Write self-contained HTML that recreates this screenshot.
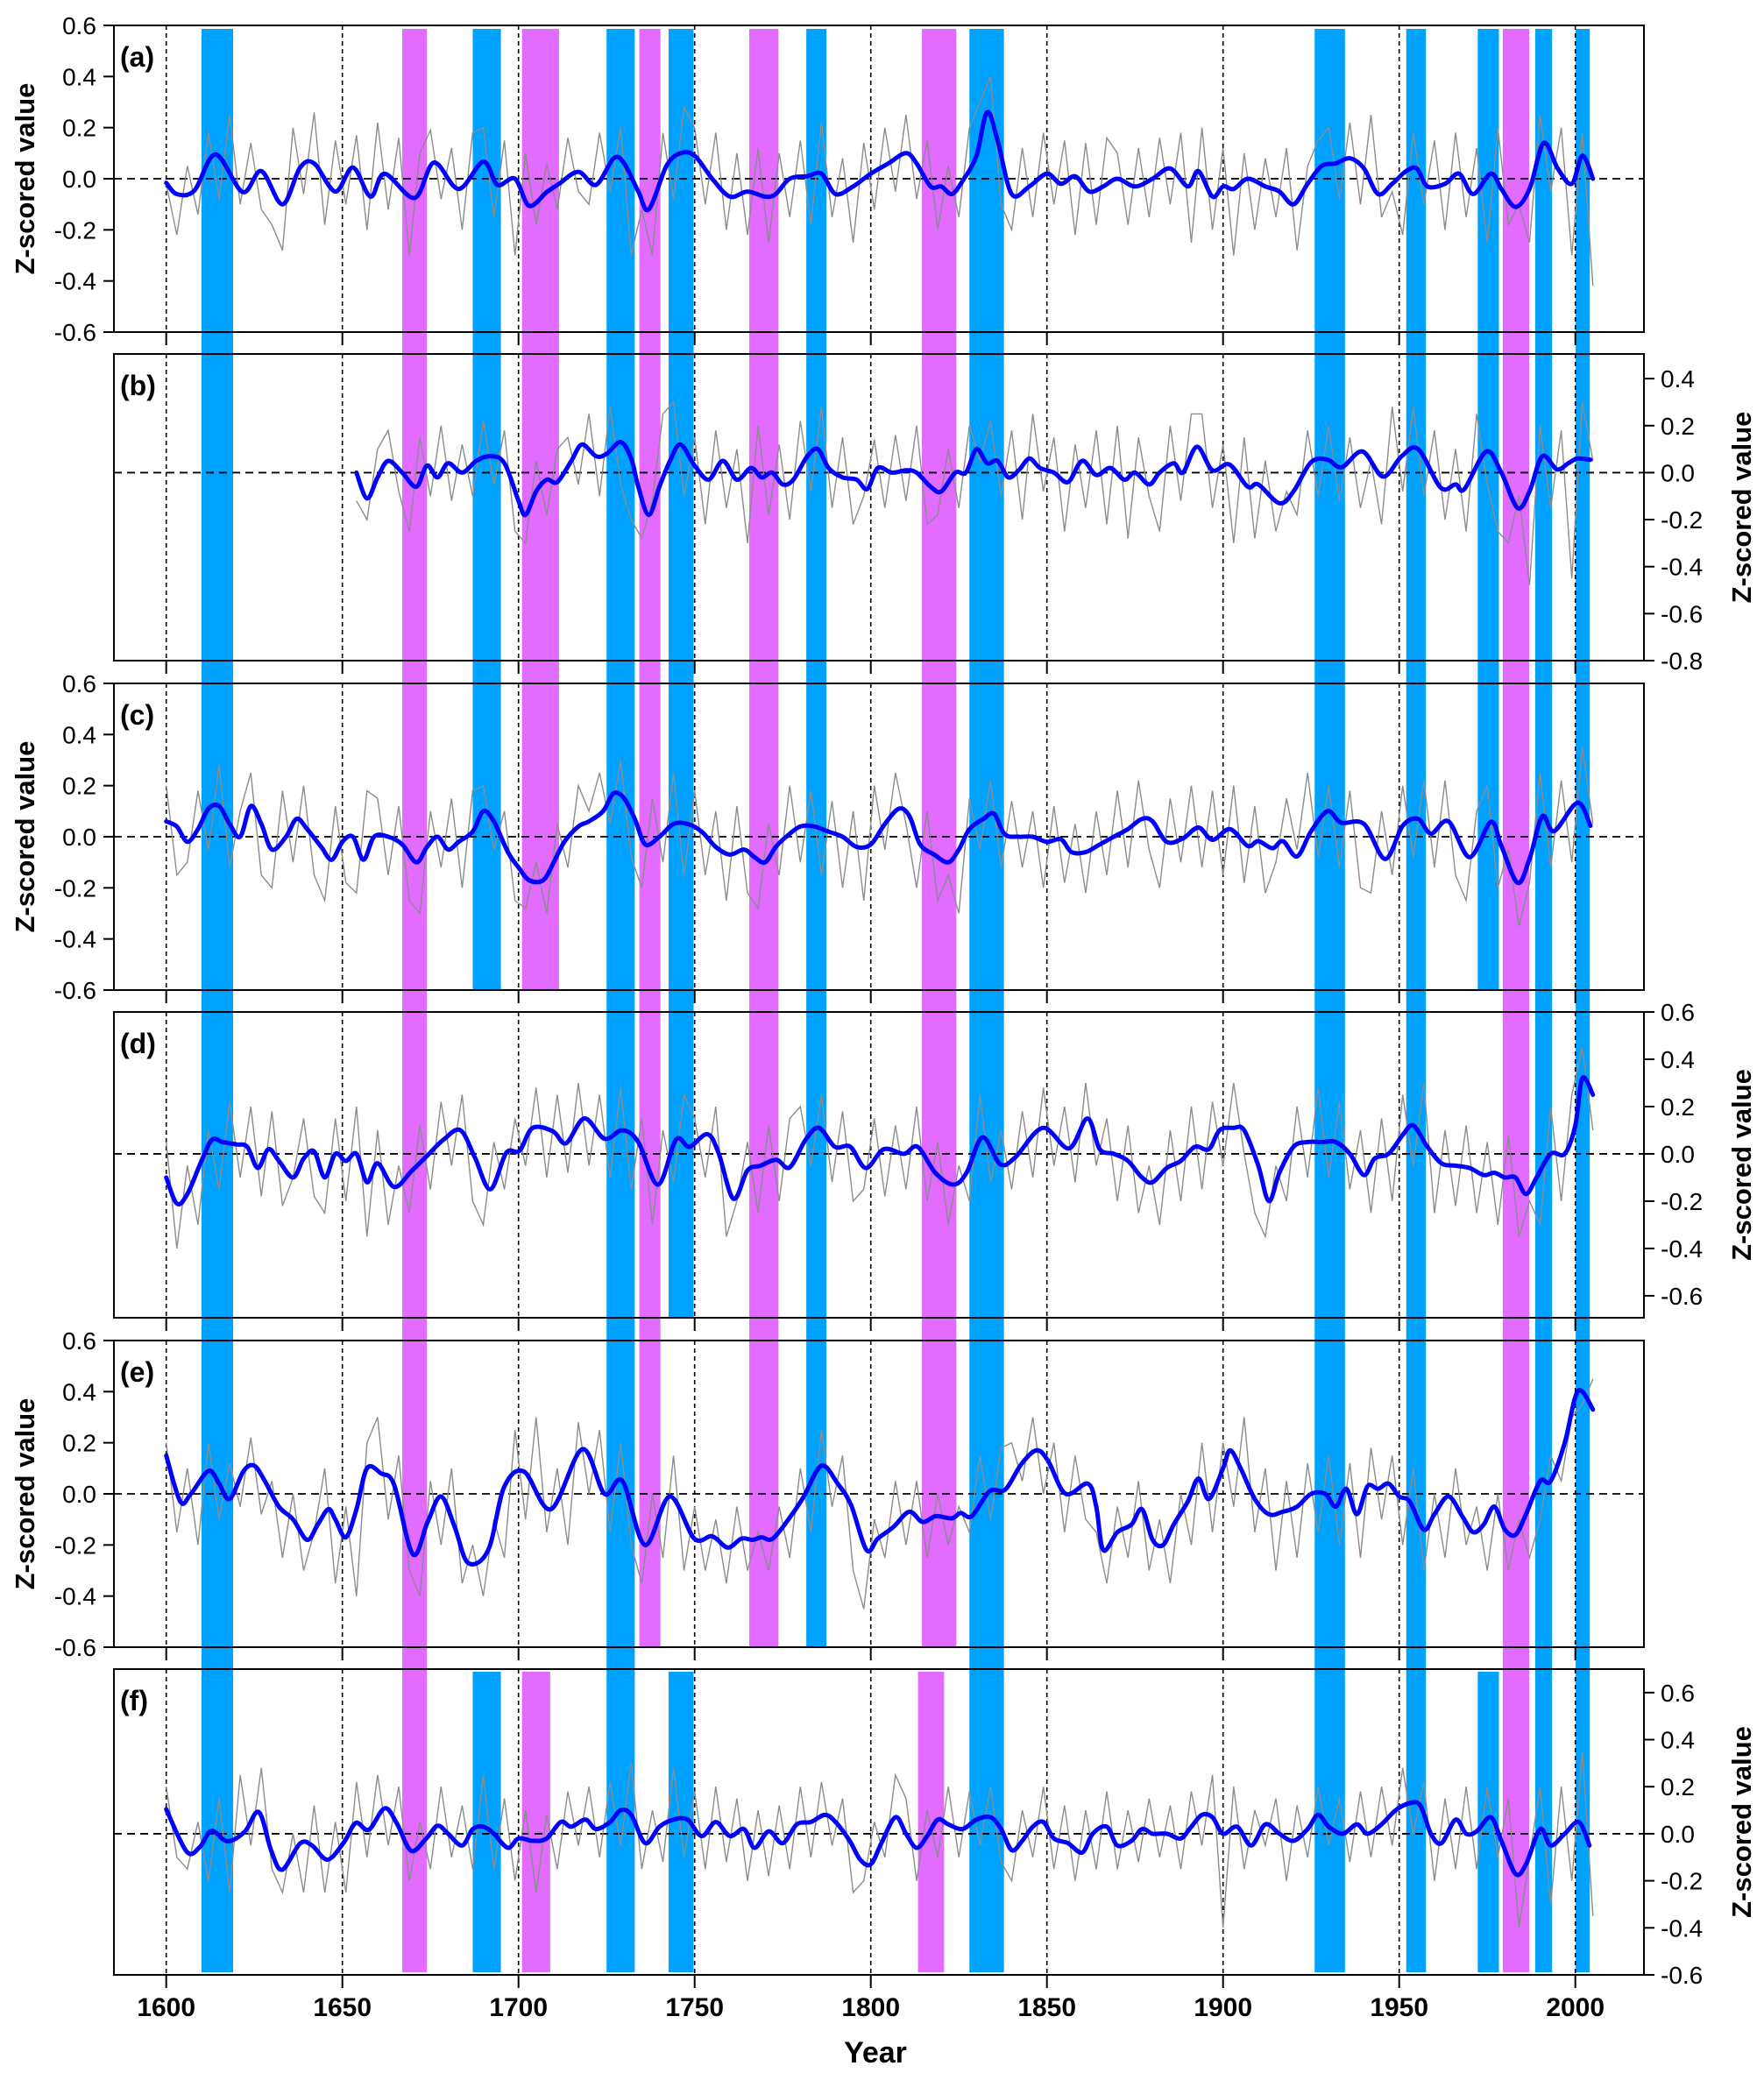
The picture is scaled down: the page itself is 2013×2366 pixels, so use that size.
<!DOCTYPE html>
<html><head><meta charset="utf-8"><title>Z-scored series</title>
<style>html,body{margin:0;padding:0;background:#fff}svg{display:block}text{font-family:"Liberation Sans",Arial,sans-serif}</style>
</head><body>
<svg id="chart" width="2013" height="2366" viewBox="0 0 2013 2366" xmlns="http://www.w3.org/2000/svg">
<g id="bands"></g>
<g id="panels"></g>
<text x="999" y="2354" text-anchor="middle" font-size="34" font-weight="bold">Year</text>
</svg>
<script>
// ---------- data ----------
const panelLabels = ["(a)","(b)","(c)","(d)","(e)","(f)"];
const yearTicks = [1600,1650,1700,1750,1800,1850,1900,1950,2000];
const ticksAC = [0.6,0.4,0.2,0.0,-0.2,-0.4,-0.6];
const ticksB = [0.4,0.2,0.0,-0.2,-0.4,-0.6,-0.8];
const ticksD = [0.6,0.4,0.2,0.0,-0.2,-0.4,-0.6];
const ticksF = [0.6,0.4,0.2,0.0,-0.2,-0.4,-0.6];

const bandStart = [1610,1667,1687,1687,1701,1701,1725,1734.3,1742.6,1742.6,1765.5,1781.7,1814.5,1813.4,1828,1926,1952,1972.3,1972.3,1979.4,1988.6,2000.1];
const bandEnd   = [1619,1674,1695,1695,1711.5,1709,1733,1740.3,1749.7,1749.7,1773.8,1787.4,1824.3,1820.8,1837.8,1934.6,1957.6,1978.3,1978.3,1986.9,1993.4,2004.1];
const bandType  = ["b","m","b","b","m","m","b","m","b","b","m","b","m","m","b","b","b","b","b","m","b","b"];
const bandFrom  = [0,0,0,5,0,5,0,0,0,5,0,0,0,5,0,0,0,0,5,0,0,0];
const bandTo    = [5,5,2,5,2,5,5,4,3,5,4,4,4,5,5,5,5,2,5,5,5,5];

// gray annual series sampled every 3 years (hundredths)
const grayA = [-2,-22,5,-14,18,-8,25,-10,14,-12,-18,-28,20,-6,26,-18,15,-10,17,-20,22,-12,16,-30,10,19,-8,12,-20,18,20,-15,15,-30,10,-18,6,-12,16,-5,-10,18,-5,20,-30,-12,-30,18,-8,28,20,-10,18,-20,10,-22,12,-25,10,-15,15,-18,22,-15,8,-25,14,-12,20,-5,25,-8,15,-20,5,-15,20,30,40,-10,-20,12,-15,18,-10,15,-22,14,-18,16,10,-18,12,-15,16,-10,18,-25,20,-20,12,-30,10,-20,8,-15,12,-28,5,15,20,-8,22,-10,25,-15,-5,-22,18,-10,15,-20,18,-15,12,-25,20,-18,-10,-25,25,-5,20,-30,18,-42];
const grayB = [-12,-20,10,18,-8,-25,15,-10,20,-12,12,-10,22,-5,18,-25,-30,5,-18,10,15,-5,25,-10,28,-5,-20,-28,-12,25,30,-10,15,-22,18,-15,10,-30,20,-18,12,-20,22,-8,28,-15,15,-22,-10,14,-15,16,-12,20,-22,-18,10,-15,20,5,22,-10,18,-20,25,-8,15,-25,12,-15,18,-22,20,-28,15,-10,-25,20,-12,25,25,-15,12,-30,15,-28,5,-25,-8,-18,18,-10,20,-12,15,-15,5,-22,28,-8,28,-10,18,-20,10,-25,25,-5,-25,-30,-10,-48,20,-15,18,-45,30,5];
const grayC = [20,-15,-10,18,-5,28,-12,10,25,-15,-20,18,-10,20,-15,-25,12,-18,-22,18,15,-15,12,-25,-30,10,-12,15,-20,18,20,-5,10,-25,-28,-10,-30,5,-12,20,10,25,5,30,-8,-20,15,-10,25,-15,18,-15,10,-25,12,-22,-28,5,-15,20,-10,18,-15,14,-20,10,-25,20,-5,25,5,-20,10,-25,-15,-30,15,-5,22,-12,14,-12,10,-20,12,-18,5,-22,10,-15,18,-12,22,-5,-20,15,-10,20,-12,18,-15,20,-18,12,-22,-10,15,-5,25,-8,20,-12,18,-20,-22,10,-15,20,-8,22,-12,22,-15,-25,10,20,-20,-5,-35,-18,25,-12,22,-10,35,5];
const grayD = [5,-40,-5,-30,10,-15,22,-10,20,-18,18,-22,-10,15,-18,-25,15,-20,20,-35,10,-30,-5,-25,12,-15,22,-5,25,-20,-30,5,-15,15,-5,28,-10,25,-8,30,-5,25,-10,28,-15,15,-30,10,-12,25,15,-10,20,-35,-20,5,-25,12,-20,15,20,-5,25,-12,18,-20,-15,15,-18,12,-15,20,-20,5,-30,-5,-20,25,-12,10,-15,18,-10,28,-5,20,-12,30,-5,15,-20,12,-25,-5,-30,10,-20,20,-15,22,-5,30,0,-25,-35,-5,-20,20,-10,28,-10,22,-15,10,-25,15,-20,25,-5,30,-25,10,-22,12,-25,5,-30,8,-35,-20,-30,20,-20,25,45,10];
const grayE = [20,-15,10,-20,20,-10,12,-5,22,-8,5,-25,0,-30,-15,10,-35,-5,-40,20,30,-10,15,-30,-40,5,-20,10,-35,-20,-40,-10,-25,25,-10,30,-15,10,-20,28,0,25,-15,20,-20,-35,0,-25,15,-30,-5,-30,-10,-35,-5,-30,-15,-30,-5,-25,10,-15,25,-5,15,-30,-45,-10,-25,5,-20,5,-25,0,-20,-5,-15,15,-10,18,20,5,30,0,20,-15,15,-10,-15,-35,-5,-25,5,-30,-10,-35,0,-20,20,-15,20,-5,30,-15,10,-30,5,-25,12,-15,15,-20,12,-25,18,-10,15,-20,10,-30,0,-25,10,-20,-5,-30,0,-30,-10,-25,-10,15,5,30,35,45];
const grayF = [20,-10,-15,5,-20,15,-25,25,-5,28,-15,-25,0,-25,12,-25,5,-25,22,-10,25,-5,20,-20,5,-15,20,-10,12,-15,25,-15,15,-20,10,-25,8,-15,18,-5,20,-10,22,-5,30,-15,10,-12,28,-10,18,-15,20,-12,15,-20,10,-18,12,-15,20,-10,22,-5,15,-25,-20,5,-10,25,15,-20,10,-10,20,-10,18,-5,20,-12,-20,10,-10,20,-15,12,-20,10,-15,18,-15,10,-12,15,-10,12,-15,18,-5,25,-40,20,-15,10,-5,15,-20,12,-10,20,-5,15,-12,18,-10,20,-5,28,0,22,-20,15,-15,20,-15,20,-10,15,-40,-10,20,-30,20,-20,35,-35];
const grayStart = [1600,1654,1600,1600,1600,1600];

// smoothed (blue) series
const smYearsA = [1600,1603,1608,1614,1621.7,1627,1633,1638,1642,1648,1653,1658,1662,1670.5,1676,1683,1690,1694,1699,1703,1708,1711.5,1717,1722,1727,1730,1734,1737,1742,1746,1750,1755,1760,1765,1770,1773,1777,1782,1786,1790,1795,1800,1805,1810,1813,1817,1820,1823,1826,1830,1833,1836,1840,1845,1850,1854,1858,1862,1866,1870,1875,1880,1885,1890,1893,1897,1900,1903,1907,1912,1916,1920,1924,1928,1932,1936,1940,1944,1948,1952,1955,1958,1963,1967,1971,1976,1979,1983,1987,1991,1995,1999,2002,2005];
const smValsA = [-0.016,-0.06,-0.046,0.095,-0.052,0.03,-0.10,0.044,0.06,-0.05,0.044,-0.07,0.02,-0.075,0.063,-0.04,0.067,-0.024,0,-0.106,-0.052,-0.02,0.027,-0.024,0.08,0.06,-0.05,-0.12,0.05,0.10,0.09,0.0,-0.07,-0.05,-0.07,-0.06,0.0,0.01,0.02,-0.06,-0.03,0.02,0.06,0.10,0.06,-0.03,-0.03,-0.06,-0.01,0.09,0.26,0.15,-0.06,-0.03,0.02,-0.02,0.01,-0.05,-0.03,0.0,-0.03,0.0,0.04,-0.03,0.03,-0.07,-0.03,-0.04,0.0,-0.03,-0.05,-0.10,-0.02,0.05,0.06,0.08,0.04,-0.06,-0.02,0.03,0.04,-0.03,-0.02,0.02,-0.06,0.02,-0.04,-0.11,-0.04,0.14,0.04,-0.02,0.09,0.0];
const smYearsB = [1654,1657,1660,1663,1667,1671,1674,1677,1680,1684,1688,1692,1696,1700,1702,1705,1708,1711,1715,1718,1722,1725,1729,1732,1734,1737,1740,1743,1746,1750,1754,1758,1762,1766,1769,1772,1775,1778,1782,1785,1788,1792,1796,1799,1802,1806,1810,1813,1817,1820,1824,1827,1830,1833,1836,1839,1842,1845,1848,1852,1856,1860,1864,1868,1872,1875,1879,1882,1886,1888.6,1892.6,1897,1901.8,1907,1910,1916,1920,1925,1929.7,1933.7,1939.6,1945.4,1950.7,1955.4,1961.8,1966,1968.5,1974.7,1979,1983.6,1987,1990.6,1994.8,1998,2000.6,2004.3];
const smValsB = [0.0,-0.11,-0.02,0.05,0.0,-0.06,0.03,-0.02,0.04,0.0,0.05,0.07,0.04,-0.12,-0.18,-0.08,-0.03,-0.04,0.05,0.12,0.07,0.08,0.13,0.06,-0.06,-0.18,-0.06,0.05,0.12,0.03,-0.03,0.05,-0.03,0.02,-0.02,0.0,-0.05,-0.03,0.07,0.10,0.02,-0.02,-0.03,-0.07,0.02,0.0,0.01,0.0,-0.06,-0.08,0.0,0.0,0.10,0.04,0.05,-0.02,0.01,0.06,0.02,0.0,-0.04,0.05,-0.01,0.02,-0.03,0.0,-0.05,0.0,0.04,0.0,0.11,0.01,0.035,-0.06,-0.05,-0.13,-0.08,0.045,0.055,0.023,0.09,-0.017,0.07,0.10,-0.064,-0.05,-0.07,0.09,0.0,-0.15,-0.08,0.07,0.014,0.04,0.06,0.055];
const smYearsC = [1600,1603,1606,1609,1612,1615,1618,1621,1624,1627,1630,1634,1637,1640,1644,1647,1650,1653,1656,1659,1663,1667,1671,1674,1677,1680,1683,1687,1690,1693,1697,1700,1703,1707,1710,1713,1717,1720,1724,1727,1730,1733,1736,1740,1744,1748,1752,1756,1760,1764,1767,1770,1773,1776,1780,1784,1788,1792,1796,1800,1804,1808,1811,1814,1818,1822,1825,1828,1832,1835,1838,1842,1846,1850,1854,1857,1861,1865,1869,1873,1877,1880,1884,1888.6,1893,1897,1902,1907,1910,1914,1917,1921,1925,1929.7,1933.5,1940,1946,1951,1955.4,1959,1964,1970,1976,1979,1983.6,1987,1990.6,1994,2000.6,2004.3];
const smValsC = [0.06,0.04,-0.02,0.03,0.11,0.12,0.05,0.0,0.12,0.05,-0.05,0.0,0.07,0.03,-0.04,-0.09,-0.02,0.0,-0.09,0.0,0.0,-0.03,-0.10,-0.04,0.0,-0.05,-0.02,0.02,0.10,0.06,-0.06,-0.12,-0.17,-0.17,-0.10,-0.02,0.04,0.06,0.10,0.17,0.15,0.07,-0.03,0.0,0.05,0.05,0.02,-0.04,-0.07,-0.05,-0.08,-0.10,-0.04,0.0,0.04,0.04,0.02,0.0,-0.04,-0.03,0.05,0.11,0.08,-0.03,-0.07,-0.10,-0.05,0.03,0.07,0.09,0.01,0.0,0.0,-0.02,-0.01,-0.06,-0.06,-0.03,0.0,0.03,0.07,0.06,-0.02,-0.007,0.036,-0.012,0.03,-0.036,-0.017,-0.045,-0.017,-0.077,0.022,0.10,0.055,0.05,-0.087,0.043,0.07,0.012,0.06,-0.08,0.058,-0.036,-0.18,-0.087,0.08,0.022,0.133,0.043];
const smYearsD = [1600,1603,1606,1610,1613,1616,1620,1623,1626,1629,1632,1636,1639,1642,1645,1648,1651,1654,1657,1660,1664.7,1669.8,1674.2,1678.7,1683.5,1687.6,1692,1696.5,1700.3,1704,1709.8,1713.5,1718.7,1724.4,1729.5,1734,1739.6,1744.7,1748.5,1753.6,1756.8,1761,1765,1768.7,1773.2,1777,1781.5,1785.3,1789.8,1794.2,1798.6,1803.7,1809.4,1813.3,1818.3,1823.4,1827.2,1831.7,1836.7,1841,1848.8,1856.3,1861.5,1865,1869,1873,1877,1880,1884,1888,1892,1896,1899,1903,1906,1910,1913,1916,1920,1924,1928,1932,1936,1940,1943,1947,1951,1954,1958,1962,1966,1970,1974,1977,1980,1983,1986,1989,1993,1997,2000,2002,2005];
const smValsD = [-0.10,-0.21,-0.17,-0.03,0.06,0.05,0.04,0.03,-0.06,0.02,-0.03,-0.10,-0.02,0.01,-0.10,0.0,-0.03,0.0,-0.12,-0.04,-0.14,-0.07,-0.006,0.06,0.10,-0.015,-0.15,0.004,0.013,0.11,0.095,0.045,0.15,0.064,0.10,0.05,-0.13,0.06,0.03,0.083,0.004,-0.19,-0.07,-0.05,-0.025,-0.057,0.06,0.11,0.03,0.03,-0.06,0.02,0.0,0.03,-0.08,-0.13,-0.08,0.07,-0.043,-0.015,0.11,0.023,0.15,0.02,0.0,-0.03,-0.10,-0.12,-0.06,-0.03,0.03,0.02,0.10,0.11,0.10,-0.05,-0.20,-0.08,0.03,0.05,0.05,0.05,0.0,-0.09,-0.02,0.0,0.08,0.12,0.03,-0.04,-0.05,-0.06,-0.09,-0.08,-0.10,-0.10,-0.17,-0.10,0.0,0.0,0.12,0.32,0.25];
const smYearsE = [1600,1604,1607,1612,1615,1618,1622,1625,1628,1632,1636,1640,1643,1646,1648,1651,1654,1657,1661,1664.7,1670,1674.2,1678,1681.9,1685.7,1691.4,1695.9,1701.6,1709.2,1718.1,1724.4,1729.5,1735.9,1742.9,1749.9,1755,1759.4,1763.3,1766.4,1769,1772.2,1777.3,1781,1786,1790.6,1794.4,1798.8,1802,1806.4,1810.9,1814.7,1818.5,1823,1825.5,1828.7,1833.7,1838.2,1842.6,1847,1850.3,1855.3,1861.6,1864,1866,1870,1874,1877,1880,1883,1886,1890,1893,1896,1900,1902,1905,1909,1913,1917,1921,1925,1929,1932,1935,1938,1941,1944,1947,1950,1953,1957,1960,1964,1968,1971,1974,1977,1980,1983,1986,1990,1993,1997,2000,2002,2005];
const smValsE = [0.15,-0.03,0.0,0.09,0.04,-0.02,0.09,0.11,0.05,-0.05,-0.10,-0.18,-0.12,-0.06,-0.10,-0.17,-0.06,0.10,0.08,0.035,-0.236,-0.11,-0.01,-0.13,-0.27,-0.22,0.026,0.087,-0.06,0.175,0.0,0.05,-0.20,-0.01,-0.175,-0.166,-0.21,-0.175,-0.18,-0.17,-0.175,-0.087,-0.01,0.11,0.04,-0.044,-0.22,-0.175,-0.13,-0.07,-0.11,-0.087,-0.096,-0.075,-0.087,0.01,0.017,0.114,0.17,0.13,0.0,0.04,-0.05,-0.22,-0.15,-0.12,-0.06,-0.18,-0.20,-0.12,-0.03,0.06,-0.02,0.10,0.17,0.10,-0.02,-0.08,-0.07,-0.05,0.0,0.0,-0.05,0.02,-0.08,0.03,0.02,0.04,-0.01,-0.03,-0.14,-0.08,-0.01,-0.09,-0.15,-0.12,-0.05,-0.14,-0.16,-0.08,0.05,0.05,0.20,0.38,0.40,0.33];
const smYearsF = [1600,1605.8,1609.5,1612.8,1617.4,1622.3,1626.3,1629.8,1632.9,1638,1641.4,1645.8,1650.5,1653.8,1657.5,1662,1665.4,1669.5,1673.7,1677,1680,1684,1687,1690,1693,1697,1700,1704,1708,1712,1715,1719,1722,1726,1729,1732,1736,1740,1744,1748,1752,1756,1760,1764,1767,1771,1775,1779,1783,1787,1790,1794,1797,1800,1803,1807,1810,1813,1816,1819,1822,1826,1830,1834,1837,1840,1843,1846,1849,1852,1856,1860,1863,1867,1870,1874,1877,1880,1884,1888,1891,1894,1897,1900,1904,1908,1912,1916,1920,1924,1927,1930,1934,1938,1941,1945,1949,1953,1956,1959,1962,1966,1969,1972,1976,1979,1983,1986,1990,1993,1997,2001,2004];
const smValsF = [0.104,-0.076,-0.057,0.012,-0.032,0.009,0.092,-0.072,-0.153,-0.041,-0.05,-0.11,-0.035,0.046,0.017,0.108,0.046,-0.072,-0.022,0.034,0.0,-0.05,0.02,0.03,0.0,-0.06,-0.02,-0.03,-0.02,0.05,0.03,0.06,0.02,0.05,0.10,0.08,-0.04,0.03,0.06,0.06,-0.01,0.05,-0.01,0.02,-0.06,0.01,-0.04,0.04,0.05,0.08,0.05,-0.03,-0.11,-0.13,-0.04,0.07,0.0,-0.06,-0.01,0.06,0.04,0.02,0.06,0.07,0.02,-0.07,-0.03,0.03,0.05,-0.02,-0.04,-0.08,0.0,0.03,-0.05,-0.03,0.02,0.0,0.0,-0.02,0.03,0.08,0.07,0.0,0.03,-0.05,0.04,0.0,-0.03,0.02,0.08,0.03,0.0,0.04,0.0,0.04,0.10,0.13,0.12,0.0,-0.04,0.06,0.0,0.01,0.07,-0.03,-0.17,-0.13,0.02,-0.05,0.0,0.05,-0.05];

// ---------- layout ----------
const NS = "http://www.w3.org/2000/svg";
const X0 = 130, X1 = 1876;
const panelTop = [29,404,780,1155,1530,1905];
const panelBot = [379,754,1130,1504,1880,2254];
const vMax = [0.6,0.505,0.6,0.60,0.6,0.70];
const vMin = [-0.6,-0.80,-0.6,-0.693,-0.6,-0.6];
const rightSide = [false,true,false,true,false,true];
const tickSets = [ticksAC,ticksB,ticksAC,ticksD,ticksAC,ticksF];
const grays = [grayA,grayB,grayC,grayD,grayE,grayF];
const smY = [smYearsA,smYearsB,smYearsC,smYearsD,smYearsE,smYearsF];
const smV = [smValsA,smValsB,smValsC,smValsD,smValsE,smValsF];

function xs(yr){ return 189.7 + (yr-1600)*4.02; }
function ys(p,v){ return panelTop[p] + (vMax[p]-v)/(vMax[p]-vMin[p])*(panelBot[p]-panelTop[p]); }
function mk(tag, attrs, parent){ const e=document.createElementNS(NS,tag); for(const k in attrs) e.setAttribute(k,attrs[k]); parent.appendChild(e); return e; }

const bandsG = document.getElementById('bands');
for(let i=0;i<bandStart.length;i++){
  const top = bandFrom[i]===0 ? 33 : panelTop[bandFrom[i]]+3;
  const bot = bandTo[i]===5 ? 2251 : panelBot[bandTo[i]];
  const r = mk('rect',{x:xs(bandStart[i]),y:top,width:xs(bandEnd[i])-xs(bandStart[i]),height:bot-top,fill:bandType[i]==='b'?'#00a2ff':'#e16cff'},bandsG);
  
  
}

function smoothPath(pts){
  let d = `M${pts[0][0]},${pts[0][1]}`;
  for(let i=0;i<pts.length-1;i++){
    const p0=pts[Math.max(0,i-1)],p1=pts[i],p2=pts[i+1],p3=pts[Math.min(pts.length-1,i+2)];
    const c1x=p1[0]+(p2[0]-p0[0])/6,c1y=p1[1]+(p2[1]-p0[1])/6;
    const c2x=p2[0]-(p3[0]-p1[0])/6,c2y=p2[1]-(p3[1]-p1[1])/6;
    d+=` C${c1x.toFixed(1)},${c1y.toFixed(1)} ${c2x.toFixed(1)},${c2y.toFixed(1)} ${p2[0].toFixed(1)},${p2[1].toFixed(1)}`;
  }
  return d;
}

const panelsG = document.getElementById('panels');
for(let p=0;p<6;p++){
  const g = mk('g',{},panelsG);
  
  
  const T=panelTop[p], B=panelBot[p];
  // vertical dotted year lines
  yearTicks.forEach(yr=>{
    const l = mk('line',{x1:xs(yr),x2:xs(yr),y1:T,y2:B,stroke:'#000','stroke-width':1.6,'stroke-dasharray':'5,4'},g);
    
    
    const t = mk('line',{x1:xs(yr),x2:xs(yr),y1:B,y2:B+15,stroke:'#000','stroke-width':2},g);
    
    
  });
  // zero line
  const z = mk('line',{x1:X0,x2:X1,y1:ys(p,0),y2:ys(p,0),stroke:'#000','stroke-width':1.8,'stroke-dasharray':'9,6'},g);
  
  
  // gray series
  const gv = grays[p];
  const gp = gv.map((v,i)=>[xs(grayStart[p]+3*i).toFixed(1), ys(p,v/100).toFixed(1)].join(',')).join(' ');
  const gl = mk('polyline',{points:gp,fill:'none',stroke:'#8c8c8c','stroke-width':1.4},g);
  
  
  // blue smooth
  const pts = smY[p].map((yr,i)=>[xs(yr), ys(p,smV[p][i])]);
  const bl = mk('path',{d:smoothPath(pts),fill:'none',stroke:'#0000ff','stroke-width':5,'stroke-linejoin':'round','stroke-linecap':'round'},g);
  
  
  // frame
  const fr = mk('rect',{x:X0,y:T,width:X1-X0,height:B-T,fill:'none',stroke:'#000','stroke-width':2},g);
  
  
  // y ticks
  tickSets[p].forEach(v=>{
    const y = ys(p,v);
    const right = rightSide[p];
    const tk = mk('line',{x1:right?X1:X0-12,x2:right?X1+12:X0,y1:y,y2:y,stroke:'#000','stroke-width':2},g);
    
    
    const tx = mk('text',{x:right?1895:110,y:y+10,'font-size':28,'text-anchor':right?'start':'end'},g);
    tx.textContent = v.toFixed(1);
    
    
  });
  // y title
  const cy = (T+B)/2, cx = rightSide[p]?1990:31;
  const yt = mk('text',{x:cx,y:cy,'font-size':31,'font-weight':'bold','text-anchor':'middle',transform:`rotate(-90 ${cx} ${cy})`,'dominant-baseline':'middle'},g);
  yt.textContent = 'Z-scored value';
  
  
  // panel label
  const pl = mk('text',{x:137,y:T+47,'font-size':32,'font-weight':'bold'},g);
  pl.textContent = panelLabels[p];
  
  
}
// year labels
const svg = document.getElementById('chart');
yearTicks.forEach(yr=>{
  const t = mk('text',{x:xs(yr),y:2301,'font-size':30,'font-weight':'bold','text-anchor':'middle'},svg);
  t.textContent = yr;
  
  
});
</script>
</body></html>
